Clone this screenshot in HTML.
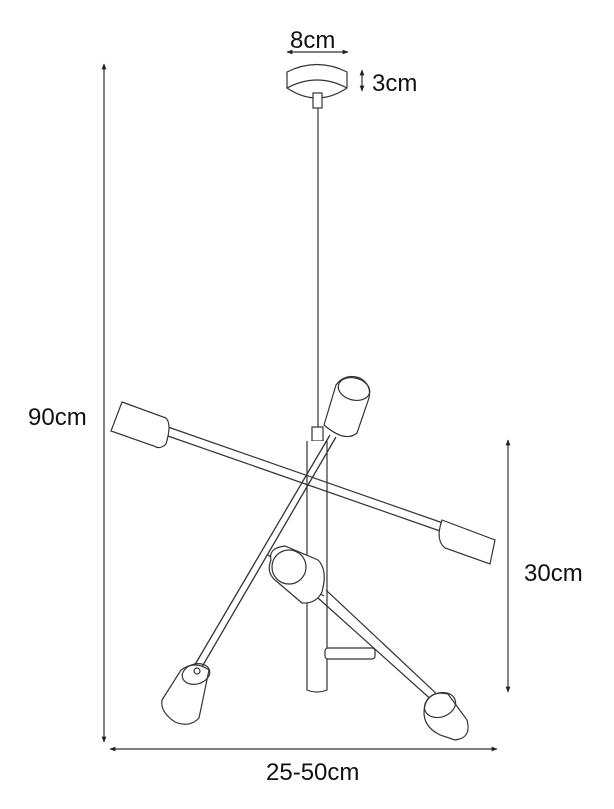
<!DOCTYPE html>
<html><head><style>
html,body{margin:0;padding:0;background:#fff;}
svg{display:block;}
text{font-family:"Liberation Sans",sans-serif;font-size:24px;fill:#111;}
</style></head><body>
<svg width="614" height="809" viewBox="0 0 614 809" xmlns="http://www.w3.org/2000/svg">
<defs>
<marker id="a" viewBox="0 0 10 10" refX="9" refY="5" markerWidth="5" markerHeight="5" orient="auto-start-reverse"><path d="M0,1 L10,5 L0,9 z" fill="#222"/></marker>
</defs>
<g stroke="#333" stroke-width="1.2" fill="none">
<line x1="104" y1="64" x2="104" y2="742" marker-start="url(#a)" marker-end="url(#a)"/>
<line x1="110" y1="749" x2="497" y2="749" marker-start="url(#a)" marker-end="url(#a)"/>
<line x1="508" y1="440" x2="508" y2="692" marker-start="url(#a)" marker-end="url(#a)"/>
<line x1="287" y1="52" x2="348" y2="52" marker-start="url(#a)" marker-end="url(#a)"/>
<line x1="362" y1="70" x2="362" y2="91" marker-start="url(#a)" marker-end="url(#a)"/>
<path d="M287,72 Q317,57 347,72 L347,88 Q317,108 287,88 Z" fill="#fff"/>
<path d="M287,88 Q317,72 347,88"/>
<rect x="313" y="93" width="9" height="15" fill="#fff"/>
<line x1="318" y1="108" x2="318" y2="430"/>
<rect x="312" y="427" width="11" height="14" fill="#fff"/>
<path d="M307,441 L307,690 Q317,694 327,690 L327,441" fill="#fff"/>
<path d="M168,427 L443,523 M165,435 L440,531" />
<path d="M122,402 L166,418 Q172,424 166,444 Q160,450 154,446 L111,431 Z" fill="#fff"/>
<path d="M442,520 L495,540 L490,564 L445,548 Q435,540 442,520 Z" fill="#fff"/>
<path d="M318,598 L435,703 M326,590 L440,697" />
<rect x="325" y="648" width="50" height="11" rx="3" fill="#fff"/>
<path d="M268,555 L310,588 L324,596" />
<path d="M271,560 Q268,548 285,546 L318,560 Q328,570 322,592 Q316,604 302,603 L275,580 Q266,572 271,560 Z" fill="#fff"/>
<circle cx="289" cy="567" r="17" fill="#fff"/>
<path d="M425,705 Q430,690 448,694 L467,720 Q472,738 455,740 L440,735 Q420,725 425,705 Z" fill="#fff"/>
<ellipse cx="440" cy="705" rx="16" ry="12" transform="rotate(-20 440 705)"/>
<path d="M330,435 L193,668 M336,437 L199,672" stroke-width="1.3"/>
<path d="M324,425 L336,385 Q345,373 360,378 Q372,385 369,398 L357,433 Q345,443 324,425 Z" fill="#fff"/>
<ellipse cx="354" cy="389" rx="16" ry="11" transform="rotate(15 354 389)"/>
<path d="M181,670 Q195,660 209,670 L199,718 Q190,728 175,722 Q160,712 162,700 Z" fill="#fff"/>
<ellipse cx="196" cy="674" rx="14" ry="10" transform="rotate(-15 196 674)"/>
<circle cx="197" cy="671" r="3"/>
</g>
<text x="290" y="48">8cm</text>
<text x="372" y="91">3cm</text>
<text x="28" y="425">90cm</text>
<text x="524" y="581">30cm</text>
<text x="266" y="780">25-50cm</text>
</svg>
</body></html>
